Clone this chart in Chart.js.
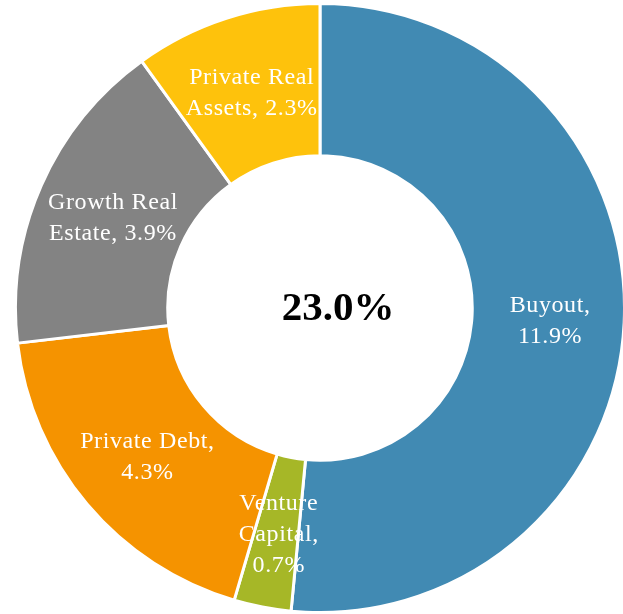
<!DOCTYPE html>
<html>
<head>
<meta charset="utf-8">
<script src="https://cdn.jsdelivr.net/npm/chart.js@4"></script>
<style>
  html, body { margin: 0; padding: 0; background: #ffffff; overflow: hidden; width: 623px; height: 614px; }
  #wrap { width: 612px; height: 612px; position: absolute; left: 14px; top: 2px; }
</style>
</head>
<body>
<div id="wrap"><canvas id="c"></canvas></div>
<script>
const categories = ["Buyout", "Venture Capital", "Private Debt", "Growth Real Estate", "Private Real Assets"];
const values = [11.9, 0.7, 4.3, 3.9, 2.3];
const labelLines = [["Buyout,", "11.9%"], ["Venture", "Capital,", "0.7%"], ["Private Debt,", "4.3%"], ["Growth Real", "Estate, 3.9%"], ["Private Real", "Assets, 2.3%"]];
const colors = ["#418AB3", "#A6B727", "#F59300", "#838383", "#FEC20C"];
const centerText = "23.0%";

const FONT = '"Palatino Linotype", "Book Antiqua", Palatino, "Liberation Serif", serif';

const labelPlugin = {
  id: 'sliceLabels',
  afterDatasetsDraw(chart) {
    const ctx = chart.ctx;
    const meta = chart.getDatasetMeta(0);
    ctx.save();
    ctx.fillStyle = '#ffffff';
    ctx.font = '24px ' + FONT;
    ctx.letterSpacing = '0.6px';
    ctx.textAlign = 'center';
    ctx.textBaseline = 'middle';
    const lh = 31;
    meta.data.forEach((arc, i) => {
      const p = arc.tooltipPosition();
      const lines = labelLines[i];
      const y0 = p.y - (lines.length - 1) * lh / 2;
      lines.forEach((t, k) => ctx.fillText(t, p.x + 2, y0 + k * lh + 2));
    });
    const a = meta.data[0];
    ctx.letterSpacing = '0px';
    ctx.fillStyle = '#000000';
    ctx.font = 'bold 41px ' + FONT;
    ctx.fillText(centerText, a.x + 18, a.y + 1);
    ctx.restore();
  }
};

new Chart(document.getElementById('c'), {
  type: 'doughnut',
  data: {
    labels: categories,
    datasets: [{
      data: values,
      backgroundColor: colors,
      borderColor: '#ffffff',
      borderWidth: 3
    }]
  },
  options: {
    responsive: true,
    maintainAspectRatio: false,
    animation: false,
    cutout: '50%',
    layout: { padding: 0 },
    plugins: {
      legend: { display: false },
      tooltip: { enabled: false }
    }
  },
  plugins: [labelPlugin]
});
</script>
</body>
</html>
